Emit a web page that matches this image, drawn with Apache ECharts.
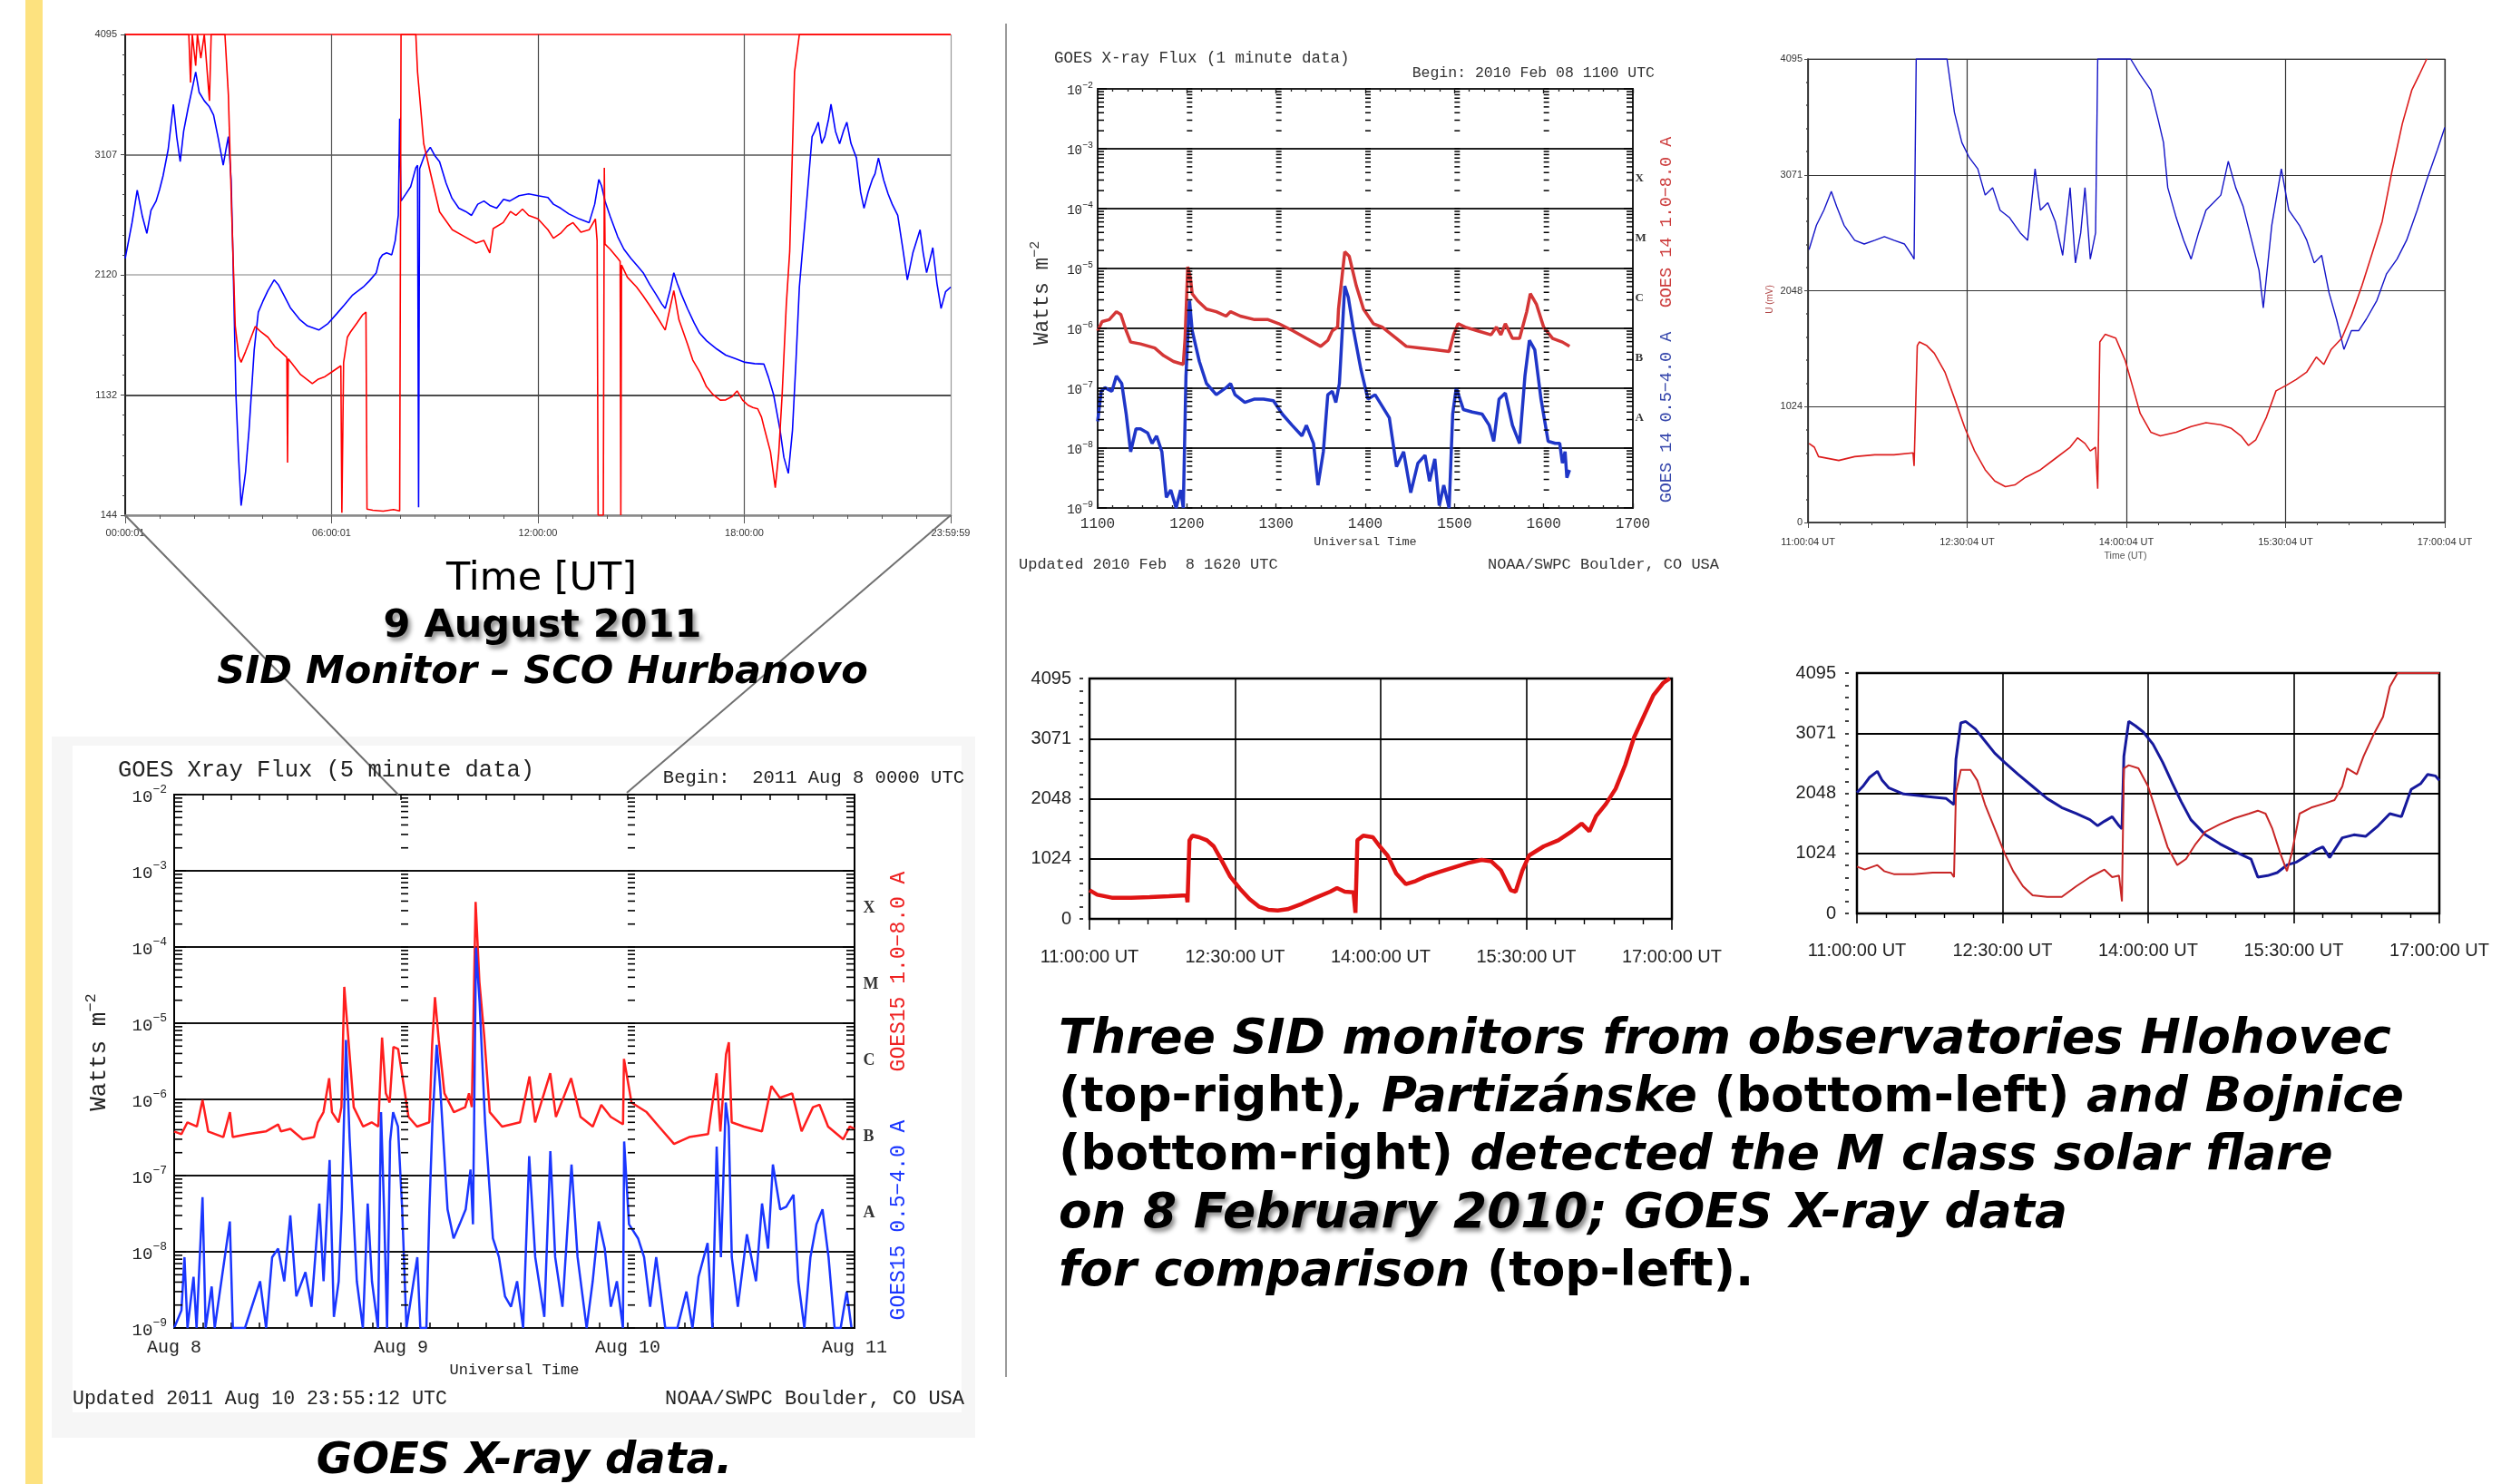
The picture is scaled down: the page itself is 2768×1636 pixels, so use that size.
<!DOCTYPE html>
<html><head><meta charset="utf-8">
<script src="https://cdn.jsdelivr.net/npm/echarts@6/dist/echarts.min.js"></script>
<style>html,body{margin:0;padding:0;background:#fff;}#c{width:2768px;height:1636px;}</style>
</head><body><div id="c"></div>
<script>
// ---------------- DATA ----------------
// Panel 1: SID monitor SCO Hurbanovo, 9 Aug 2011 (hours UT, signal)
const hurbanovoXLabels = ['00:00:01','06:00:01','12:00:00','18:00:00','23:59:59'];
const hurbanovoYLabels = ['144','1132','2120','3107','4095'];
const hurbanovoBlue = [[0,2255],[0.1,2400],[0.2,2550],[0.35,2815],[0.5,2600],[0.63,2460],[0.75,2650],[0.9,2726],[1.0,2820],[1.1,2932],[1.25,3150],[1.4,3521],[1.5,3250],[1.6,3050],[1.7,3300],[1.83,3491],[1.95,3650],[2.05,3786],[2.15,3620],[2.3,3550],[2.45,3500],[2.57,3433],[2.7,3250],[2.85,3020],[2.93,3150],[3.0,3256],[3.08,2900],[3.13,2314],[3.22,1136],[3.3,600],[3.37,223],[3.5,500],[3.6,842],[3.75,1500],[3.87,1813],[4.0,1900],[4.15,1990],[4.33,2078],[4.45,2040],[4.6,1960],[4.8,1850],[5.07,1754],[5.3,1700],[5.63,1666],[5.9,1720],[6.15,1800],[6.37,1872],[6.6,1950],[6.92,2019],[7.1,2070],[7.3,2137],[7.4,2250],[7.48,2284],[7.6,2300],[7.75,2284],[7.85,2400],[7.94,2608],[7.98,3403],[8.02,2726],[8.15,2780],[8.3,2844],[8.45,3000],[8.5,3020],[8.53,209],[8.56,2991],[8.7,3100],[8.87,3168],[9.0,3100],[9.14,3050],[9.33,2873],[9.5,2750],[9.7,2667],[9.9,2640],[10.07,2608],[10.25,2700],[10.43,2726],[10.6,2690],[10.8,2667],[11.0,2740],[11.18,2726],[11.45,2770],[11.73,2785],[12.0,2770],[12.29,2755],[12.45,2700],[12.66,2667],[12.9,2620],[13.2,2579],[13.49,2549],[13.65,2700],[13.77,2903],[13.85,2850],[13.95,2726],[14.1,2600],[14.32,2432],[14.5,2330],[14.7,2255],[14.9,2190],[15.06,2137],[15.25,2040],[15.43,1960],[15.6,1880],[15.7,1843],[15.85,2000],[15.95,2137],[16.05,2050],[16.17,1960],[16.35,1840],[16.54,1725],[16.7,1640],[16.9,1578],[17.2,1510],[17.46,1460],[17.75,1430],[18.02,1401],[18.3,1390],[18.57,1386],[18.7,1280],[18.85,1136],[19.04,842],[19.15,620],[19.28,488],[19.4,842],[19.5,1400],[19.6,2019],[19.7,2350],[19.78,2608],[19.88,2950],[19.97,3256],[20.05,3300],[20.15,3374],[20.25,3200],[20.34,3256],[20.45,3400],[20.52,3521],[20.65,3300],[20.77,3197],[20.88,3300],[20.98,3374],[21.1,3200],[21.26,3080],[21.38,2800],[21.48,2667],[21.6,2800],[21.72,2903],[21.8,2950],[21.9,3080],[22.05,2900],[22.18,2785],[22.3,2700],[22.46,2608],[22.6,2350],[22.74,2078],[22.9,2300],[23.11,2490],[23.2,2300],[23.3,2137],[23.4,2250],[23.48,2343],[23.6,2050],[23.72,1843],[23.85,1980],[24,2019]];
const hurbanovoRed = [[0,4095],[1.85,4095],[1.9,3700],[1.95,4095],[2.05,3838],[2.1,4095],[2.2,3900],[2.3,4095],[2.45,3550],[2.5,4095],[2.9,4095],[3.0,3600],[3.1,2600],[3.2,1700],[3.3,1450],[3.37,1401],[3.5,1489],[3.6,1560],[3.78,1695],[3.95,1650],[4.15,1607],[4.35,1530],[4.52,1489],[4.7,1440],[4.72,577],[4.74,1430],[4.9,1372],[5.1,1300],[5.44,1225],[5.6,1260],[5.81,1283],[6.0,1320],[6.27,1372],[6.3,165],[6.35,1400],[6.46,1607],[6.55,1650],[6.74,1725],[6.9,1790],[7.0,1813],[7.03,194],[7.2,185],[7.5,178],[7.8,190],[7.98,180],[8.02,4095],[8.45,4095],[8.5,3786],[8.68,3197],[8.87,2962],[9.14,2638],[9.51,2490],[9.88,2432],[10.2,2380],[10.43,2402],[10.6,2300],[10.7,2500],[10.99,2549],[11.2,2640],[11.36,2608],[11.55,2660],[11.73,2608],[12.0,2580],[12.29,2490],[12.45,2420],[12.66,2461],[12.85,2520],[13.02,2549],[13.25,2470],[13.49,2490],[13.67,2579],[13.72,2400],[13.75,144],[13.9,144],[13.93,3000],[13.95,2372],[14.1,2330],[14.32,2255],[14.39,2230],[14.41,144],[14.43,2200],[14.6,2100],[14.87,2019],[15.05,1950],[15.24,1872],[15.45,1780],[15.7,1666],[15.95,1990],[16.1,1750],[16.35,1549],[16.5,1420],[16.72,1313],[16.9,1200],[17.09,1136],[17.3,1090],[17.46,1092],[17.65,1120],[17.79,1166],[17.95,1090],[18.11,1048],[18.25,1030],[18.39,1018],[18.5,950],[18.57,871],[18.76,665],[18.9,371],[19.0,650],[19.1,1136],[19.22,1872],[19.32,2314],[19.46,3786],[19.6,4095],[24,4095]];

// Panel 2: GOES 15 X-ray flux, 5 minute data, hours since 2011 Aug 8 00:00 (W m^-2)
const goes5XLabels = ['Aug 8','Aug 9','Aug 10','Aug 11'];
const goes5Red = [[0,3.8e-7],[0.77,3.5e-7],[1.4,5.0e-7],[2.4,4.4e-7],[3.0,9.8e-7],[3.6,3.8e-7],[5.2,3.2e-7],[5.9,6.8e-7],[6.2,3.2e-7],[7.8,3.5e-7],[9.7,3.8e-7],[11.0,4.7e-7],[11.3,3.8e-7],[12.3,4.1e-7],[13.6,3.0e-7],[14.8,3.2e-7],[15.2,5.0e-7],[15.8,6.8e-7],[16.4,1.9e-6],[16.7,6.8e-7],[17.4,5.0e-7],[17.7,7.9e-7],[18.0,3.0e-5],[18.4,7.1e-6],[19.0,7.9e-7],[20.0,4.4e-7],[20.9,5.0e-7],[21.6,4.4e-7],[22.0,6.5e-6],[22.4,1.2e-6],[22.8,9.1e-7],[23.2,4.9e-6],[23.7,4.6e-6],[24.1,2.2e-6],[24.8,5.9e-7],[25.7,4.4e-7],[27.0,5.0e-7],[27.3,5.2e-6],[27.6,2.2e-5],[28.0,6.0e-6],[28.6,1.2e-6],[29.6,6.8e-7],[30.8,7.9e-7],[31.2,1.2e-6],[31.5,7.9e-7],[31.9,3.9e-4],[32.3,3.5e-5],[32.8,7.1e-6],[33.4,6.8e-7],[34.7,4.4e-7],[36.6,5.0e-7],[37.6,2.0e-6],[38.2,5.0e-7],[39.8,2.2e-6],[40.4,5.9e-7],[42.0,1.9e-6],[43.0,5.9e-7],[44.3,4.4e-7],[45.2,8.5e-7],[46.2,5.9e-7],[47.5,4.7e-7],[47.6,3.4e-6],[48.4,9.1e-7],[50.0,6.8e-7],[51.3,4.4e-7],[52.9,2.6e-7],[54.5,3.2e-7],[56.5,3.5e-7],[57.4,2.2e-6],[57.8,3.8e-7],[58.4,3.9e-6],[58.7,5.6e-6],[59.0,5.0e-7],[60.3,4.4e-7],[62.2,3.8e-7],[63.2,1.5e-6],[64.1,1.05e-6],[65.4,1.2e-6],[66.4,3.8e-7],[67.6,7.9e-7],[68.3,8.5e-7],[69.2,4.4e-7],[70.8,3.0e-7],[71.5,4.4e-7],[72,4.1e-7]];
const goes5Blue = [[0,1e-9],[0.77,1.7e-9],[1.09,8.5e-9],[1.41,1e-9],[2.05,4.7e-9],[2.37,1e-9],[3.0,5.2e-8],[3.33,1e-9],[3.97,3.5e-9],[4.29,1e-9],[5.89,2.5e-8],[6.21,1e-9],[7.49,1e-9],[9.09,4.1e-9],[9.73,1e-9],[10.37,8.5e-9],[11.0,1.1e-8],[11.65,4.1e-9],[12.29,3.0e-8],[12.93,2.6e-9],[13.89,5.4e-9],[14.53,1.9e-9],[15.36,4.3e-8],[15.81,4.1e-9],[16.45,1.6e-7],[16.9,1.4e-9],[17.41,4.1e-9],[17.73,3.6e-8],[18.18,6.0e-6],[18.56,3.2e-7],[19.33,4.1e-9],[19.97,1e-9],[20.48,4.3e-8],[20.93,4.1e-9],[21.57,1e-9],[21.89,6.8e-7],[22.21,3.6e-8],[22.53,1e-9],[22.85,2.8e-7],[23.17,6.8e-7],[23.68,4.4e-7],[24.13,3.6e-8],[24.58,1e-9],[25.73,8.5e-9],[26.05,1e-9],[26.69,1e-9],[27.01,3.6e-8],[27.33,5.0e-7],[27.78,5.2e-6],[28.16,1.4e-6],[28.93,3.6e-8],[29.57,1.5e-8],[30.21,2.3e-8],[30.85,3.6e-8],[31.36,1.2e-7],[31.62,2.3e-8],[31.94,9.8e-5],[32.32,1.9e-5],[32.9,5.0e-7],[33.73,1.5e-8],[34.37,8.5e-9],[35.01,2.6e-9],[35.65,1.9e-9],[36.29,4.1e-9],[36.93,1e-9],[37.57,1.8e-7],[38.21,8.5e-9],[39.17,1.4e-9],[39.81,2.1e-7],[40.32,8.5e-9],[41.09,1.9e-9],[42.05,1.4e-7],[42.69,8.5e-9],[43.65,1e-9],[44.29,4.1e-9],[44.93,2.5e-8],[45.57,1.1e-8],[46.21,1.9e-9],[46.85,4.1e-9],[47.49,1e-9],[47.62,2.8e-7],[48.13,2.3e-8],[49.09,1.5e-8],[49.73,8.5e-9],[50.37,1.9e-9],[51.01,8.5e-9],[51.97,1e-9],[53.25,1e-9],[54.21,3.0e-9],[54.85,1e-9],[55.49,4.7e-9],[56.45,1.3e-8],[56.96,1e-9],[57.41,2.4e-7],[57.86,8.5e-9],[58.37,9.1e-7],[58.69,4.4e-7],[59.01,8.5e-9],[59.65,1.9e-9],[60.61,1.7e-8],[61.57,4.1e-9],[62.21,4.3e-8],[62.85,1.1e-8],[63.36,1.4e-7],[64.13,3.6e-8],[64.77,3.9e-8],[65.54,5.6e-8],[66.05,4.1e-9],[66.69,1e-9],[67.33,8.5e-9],[67.97,2.3e-8],[68.61,3.6e-8],[69.25,8.5e-9],[69.89,1e-9],[70.53,1e-9],[71.17,3.0e-9],[71.68,1e-9]];

// Panel 3: GOES 14 X-ray flux, 1 minute data, 2010 Feb 08 (UT hours, W m^-2)
const goes1XLabels = ['1100','1200','1300','1400','1500','1600','1700'];
const goes1Red = [[11.0,9.1e-7],[11.05,1.3e-6],[11.13,1.4e-6],[11.21,1.9e-6],[11.26,1.7e-6],[11.32,9.1e-7],[11.37,5.9e-7],[11.48,5.5e-7],[11.64,4.7e-7],[11.74,3.5e-7],[11.85,2.8e-7],[11.96,2.5e-7],[11.98,6.8e-7],[12.01,1.07e-5],[12.04,6.9e-6],[12.06,3.8e-6],[12.12,2.9e-6],[12.22,2.1e-6],[12.33,1.9e-6],[12.44,1.6e-6],[12.49,1.9e-6],[12.6,1.6e-6],[12.76,1.4e-6],[12.91,1.4e-6],[13.03,1.2e-6],[13.19,9.1e-7],[13.34,6.8e-7],[13.5,5.0e-7],[13.58,6.3e-7],[13.63,9.1e-7],[13.69,1.05e-6],[13.7,2.1e-6],[13.77,1.9e-5],[13.82,1.6e-5],[13.9,5.1e-6],[13.98,2.1e-6],[14.09,1.2e-6],[14.19,1.05e-6],[14.35,6.8e-7],[14.46,5.0e-7],[14.62,4.7e-7],[14.78,4.4e-7],[14.94,4.1e-7],[14.99,7.8e-7],[15.04,1.2e-6],[15.12,1.05e-6],[15.26,9.1e-7],[15.41,7.8e-7],[15.47,1.05e-6],[15.52,7.8e-7],[15.57,1.2e-6],[15.65,6.8e-7],[15.73,6.8e-7],[15.81,1.9e-6],[15.85,3.8e-6],[15.92,2.5e-6],[16.0,1.05e-6],[16.1,6.8e-7],[16.21,5.9e-7],[16.29,5.0e-7]];
const goes1Blue = [[11.0,2.8e-8],[11.04,8.9e-8],[11.08,1.02e-7],[11.16,8.9e-8],[11.21,1.6e-7],[11.27,1.2e-7],[11.32,3.7e-8],[11.37,8.7e-9],[11.43,2.1e-8],[11.48,2.1e-8],[11.56,1.8e-8],[11.61,1.2e-8],[11.66,1.6e-8],[11.72,8.7e-9],[11.77,1.5e-9],[11.82,2.0e-9],[11.88,1e-9],[11.93,2.0e-9],[11.96,1e-9],[11.99,1.6e-7],[12.03,2.9e-6],[12.06,9.1e-7],[12.14,2.8e-7],[12.22,1.2e-7],[12.33,7.8e-8],[12.44,1.02e-7],[12.49,1.2e-7],[12.54,7.8e-8],[12.65,5.8e-8],[12.76,6.6e-8],[12.86,6.6e-8],[12.97,6.2e-8],[13.07,3.7e-8],[13.18,2.4e-8],[13.29,1.6e-8],[13.34,2.4e-8],[13.42,1.2e-8],[13.47,2.4e-9],[13.53,8.7e-9],[13.58,7.8e-8],[13.63,8.9e-8],[13.67,5.8e-8],[13.71,1.2e-7],[13.77,5.1e-6],[13.81,3.3e-6],[13.87,9.1e-7],[13.95,2.1e-7],[14.03,6.6e-8],[14.11,7.8e-8],[14.19,5.0e-8],[14.27,3.2e-8],[14.35,4.9e-9],[14.43,8.7e-9],[14.51,1.8e-9],[14.59,5.6e-9],[14.67,7.6e-9],[14.72,2.8e-9],[14.78,6.6e-9],[14.83,1.1e-9],[14.88,2.4e-9],[14.94,1e-9],[14.98,3.7e-8],[15.02,1.02e-7],[15.1,4.4e-8],[15.2,4.0e-8],[15.31,3.7e-8],[15.39,2.4e-8],[15.44,1.3e-8],[15.5,6.6e-8],[15.57,8.3e-8],[15.65,2.4e-8],[15.73,1.2e-8],[15.79,1.6e-7],[15.84,6.3e-7],[15.9,4.4e-7],[15.97,6.6e-8],[16.05,1.3e-8],[16.13,1.2e-8],[16.18,1.2e-8],[16.21,5.6e-9],[16.24,8.7e-9],[16.26,3.2e-9],[16.29,4.3e-9]];
const flareClasses = [['X',3.2e-4],['M',3.2e-5],['C',3.2e-6],['B',3.2e-7],['A',3.2e-8]];

// Panel 4: Hlohovec SID monitor, 8 Feb 2010 (UT hours, mV)
const hlohovecXLabels = ['11:00:04 UT','12:30:04 UT','14:00:04 UT','15:30:04 UT','17:00:04 UT'];
const sidYLabels = ['0','1024','2048','3071','4095'];
const hlohovecBlue = [[11.01,2410],[11.08,2626],[11.15,2759],[11.22,2925],[11.27,2792],[11.34,2626],[11.44,2493],[11.53,2460],[11.63,2493],[11.72,2526],[11.81,2493],[11.91,2460],[11.98,2360],[12.0,2327],[12.02,4095],[12.31,4095],[12.38,3623],[12.45,3357],[12.52,3224],[12.6,3124],[12.67,2892],[12.74,2958],[12.81,2759],[12.9,2692],[13.0,2559],[13.07,2493],[13.14,3124],[13.19,2759],[13.26,2825],[13.33,2659],[13.4,2360],[13.47,2958],[13.52,2293],[13.57,2559],[13.61,2958],[13.66,2327],[13.71,2559],[13.73,4095],[14.04,4095],[14.13,3955],[14.23,3822],[14.3,3557],[14.35,3357],[14.39,2958],[14.47,2692],[14.54,2493],[14.61,2327],[14.68,2559],[14.75,2759],[14.82,2825],[14.89,2892],[14.96,3191],[15.03,2958],[15.1,2792],[15.18,2493],[15.25,2227],[15.29,1895],[15.37,2626],[15.46,3124],[15.53,2759],[15.63,2626],[15.7,2493],[15.77,2293],[15.84,2360],[15.91,2028],[15.98,1795],[16.05,1529],[16.12,1695],[16.19,1695],[16.26,1795],[16.36,1961],[16.45,2194],[16.55,2327],[16.64,2493],[16.74,2759],[16.83,3025],[16.93,3291],[17.0,3490]];
const hlohovecRed = [[11.01,698],[11.06,665],[11.1,582],[11.29,548],[11.44,582],[11.63,598],[11.81,598],[11.99,615],[12.0,499],[12.03,1562],[12.05,1595],[12.12,1562],[12.19,1496],[12.29,1330],[12.38,1097],[12.48,831],[12.57,632],[12.67,465],[12.76,366],[12.86,316],[12.95,332],[13.05,399],[13.19,465],[13.33,565],[13.47,665],[13.54,748],[13.61,698],[13.66,632],[13.71,665],[13.73,299],[13.75,1595],[13.8,1662],[13.9,1629],[13.99,1429],[14.06,1197],[14.13,964],[14.23,798],[14.32,765],[14.47,798],[14.61,848],[14.75,881],[14.89,864],[14.99,831],[15.08,765],[15.15,681],[15.22,731],[15.32,931],[15.41,1163],[15.51,1213],[15.6,1263],[15.7,1330],[15.79,1462],[15.86,1396],[15.93,1529],[16.03,1629],[16.12,1828],[16.22,2094],[16.31,2360],[16.41,2659],[16.5,3091],[16.6,3523],[16.69,3822],[16.76,3955],[16.83,4095]];

// Panel 5: Partizanske; Panel 6: Bojnice (UT hours, signal)
const sidXLabels = ['11:00:00 UT','12:30:00 UT','14:00:00 UT','15:30:00 UT','17:00:00 UT'];
const partizanskeRed = [[11.0,489],[11.08,412],[11.23,361],[11.43,361],[11.62,371],[11.82,386],[12.0,402],[12.01,283],[12.03,1339],[12.06,1417],[12.13,1391],[12.21,1339],[12.28,1236],[12.35,1030],[12.45,721],[12.55,515],[12.65,335],[12.75,206],[12.84,155],[12.94,144],[13.04,165],[13.19,258],[13.33,361],[13.48,464],[13.55,525],[13.63,464],[13.72,453],[13.74,103],[13.76,1339],[13.82,1417],[13.92,1391],[13.99,1236],[14.07,1082],[14.16,773],[14.26,592],[14.36,644],[14.46,721],[14.6,798],[14.75,876],[14.9,953],[15.04,1004],[15.14,979],[15.24,824],[15.34,489],[15.39,464],[15.46,824],[15.53,1082],[15.68,1236],[15.83,1339],[15.97,1494],[16.07,1623],[16.15,1494],[16.22,1751],[16.32,1957],[16.42,2215],[16.52,2627],[16.61,3091],[16.71,3451],[16.81,3812],[16.91,4018],[16.98,4095]];
const bojniceBlue = [[11.0,2060],[11.06,2163],[11.13,2318],[11.21,2421],[11.26,2266],[11.33,2137],[11.48,2035],[11.63,2009],[11.78,1983],[11.92,1957],[12.0,1854],[12.02,2627],[12.07,3245],[12.12,3271],[12.22,3142],[12.32,2936],[12.42,2730],[12.52,2575],[12.66,2369],[12.81,2163],[12.96,1957],[13.11,1803],[13.26,1700],[13.4,1597],[13.48,1494],[13.55,1571],[13.63,1648],[13.7,1494],[13.73,1442],[13.75,2678],[13.8,3271],[13.87,3194],[13.95,3091],[14.05,2884],[14.15,2575],[14.25,2215],[14.34,1906],[14.44,1597],[14.59,1339],[14.74,1185],[14.89,1056],[14.99,979],[15.06,927],[15.13,618],[15.23,644],[15.33,695],[15.43,824],[15.53,876],[15.63,979],[15.73,1082],[15.8,1133],[15.87,953],[15.92,1082],[16.0,1288],[16.12,1339],[16.24,1313],[16.37,1494],[16.49,1700],[16.61,1648],[16.71,2112],[16.81,2215],[16.88,2369],[16.96,2343],[17.0,2266]];
const bojniceRed = [[11.0,798],[11.08,747],[11.21,824],[11.28,721],[11.38,670],[11.58,670],[11.78,695],[11.97,695],[12.0,618],[12.02,2060],[12.07,2446],[12.17,2446],[12.24,2266],[12.32,1854],[12.42,1442],[12.52,1030],[12.61,721],[12.71,464],[12.81,309],[12.96,283],[13.11,283],[13.26,464],[13.4,618],[13.55,747],[13.63,618],[13.7,644],[13.73,206],[13.75,2472],[13.8,2524],[13.9,2472],[14.0,2163],[14.1,1648],[14.2,1133],[14.3,824],[14.39,927],[14.49,1185],[14.59,1391],[14.74,1519],[14.89,1623],[15.04,1700],[15.13,1751],[15.21,1700],[15.28,1442],[15.36,1030],[15.43,721],[15.48,1030],[15.56,1700],[15.68,1803],[15.83,1880],[15.92,1932],[16.0,2163],[16.05,2472],[16.15,2369],[16.22,2678],[16.32,3039],[16.42,3348],[16.49,3863],[16.57,4095],[17.0,4095]];

// ---------------- CHART ----------------
const MONO = 'Liberation Mono, DejaVu Sans Mono, monospace';
const SANS = 'Liberation Sans, Arial, sans-serif';
const VERD = 'DejaVu Sans, Verdana, sans-serif';

const chart = echarts.init(document.getElementById('c'), null, {renderer: 'canvas', width: 2768, height: 1636});

function idxLabel(arr, start, step) {
  return function (v) { const i = Math.round((v - start) / step); return arr[i] != null ? arr[i] : ''; };
}
function logLabel(v) {
  const e = Math.round(Math.log10(v));
  return '{b|10}{s|' + (e < 0 ? '\u2212' : '') + Math.abs(e) + '}';
}
function logRich(b, s, pad) {
  return {
    b: {fontSize: b, fontFamily: MONO, color: '#222', verticalAlign: 'bottom'},
    s: {fontSize: s, fontFamily: MONO, color: '#222', verticalAlign: 'top', padding: [0, 0, pad, 0]}
  };
}
// log-axis tick columns (edges and day/hour boundaries)
function logTickData(cols) {
  const out = [];
  cols.forEach(function (c) {
    for (let n = -9; n <= -2; n++) {
      for (let k = 1; k <= 9; k++) {
        if (n === -2 && k > 1) break;
        out.push([c[0], k * Math.pow(10, n), c[1], k === 1 ? c[3] : c[2]]);
      }
    }
  });
  return out;
}
function tickSeries(xi, yi, cols, lw) {
  return {
    type: 'custom', xAxisIndex: xi, yAxisIndex: yi, silent: true, z: 4, clip: false,
    dimensions: ['x', 'y', 'dir', 'len'], encode: {x: 0, y: 1},
    data: logTickData(cols),
    renderItem: function (params, api) {
      const p = api.coord([api.value(0), api.value(1)]);
      const d = api.value(2), L = api.value(3);
      return {type: 'line', shape: {x1: p[0], y1: p[1], x2: p[0] + d * L, y2: p[1]},
        style: {stroke: '#000', lineWidth: lw}};
    }
  };
}
function line(xi, yi, data, color, w, z) {
  return {type: 'line', xAxisIndex: xi, yAxisIndex: yi, data: data, showSymbol: false, symbol: 'none',
    lineStyle: {color: color, width: w}, itemStyle: {color: color}, z: z || 3, silent: true};
}
function classSeries(xi, yi, xmax, fs, dist) {
  return {type: 'scatter', xAxisIndex: xi, yAxisIndex: yi, symbolSize: 1, silent: true,
    itemStyle: {color: 'rgba(0,0,0,0)'},
    data: flareClasses.map(function (c) { return {name: c[0], value: [xmax, c[1]]}; }),
    label: {show: true, position: 'right', distance: dist, formatter: '{b}', fontFamily: 'Liberation Serif, DejaVu Serif, serif',
      fontWeight: 'bold', fontSize: fs, color: '#000'}};
}
function T(x, y, text, o) {
  o = o || {};
  const al = o.align || 'left';
  const st = Object.assign({text: text, fill: o.fill || '#000', fontFamily: o.fontFamily || VERD, fontSize: o.fontSize || 20,
    fontWeight: o.fontWeight || 'normal', fontStyle: o.fontStyle || 'normal',
    align: al, textAlign: al, verticalAlign: 'middle', textVerticalAlign: 'middle'}, o.extra || {});
  if (o.rich) st.rich = o.rich;
  return {type: 'text', x: x, y: y, rotation: o.rotation || 0, z: 100, silent: true, style: st};
}

const grids = [
  {left: 138, top: 38, width: 910, height: 530},
  {left: 192, top: 876, width: 750, height: 588, show: true, borderColor: '#000', borderWidth: 2, backgroundColor: 'transparent'},
  {left: 1210, top: 98, width: 590, height: 462, show: true, borderColor: '#222', borderWidth: 2, backgroundColor: 'transparent'},
  {left: 1993, top: 65, width: 702, height: 511, show: true, borderColor: '#666', borderWidth: 1.2, backgroundColor: 'transparent'},
  {left: 1201, top: 748, width: 642, height: 265, show: true, borderColor: '#000', borderWidth: 2.5, backgroundColor: 'transparent'},
  {left: 2047, top: 742, width: 642, height: 265, show: true, borderColor: '#000', borderWidth: 2.5, backgroundColor: 'transparent'}
];
grids.forEach(function (g) { g.containLabel = false; g.outerBoundsMode = 'none'; });

const noTick = {show: false};
const xAxes = [
  // 0: Hurbanovo
  {gridIndex: 0, type: 'value', min: 0, max: 24, interval: 6, position: 'bottom',
    axisLine: {show: true, lineStyle: {color: '#8a8a8a', width: 2.5}},
    axisTick: {show: true, length: 9, lineStyle: {color: '#555', width: 1}},
    minorTick: {show: true, splitNumber: 6, length: 4, lineStyle: {color: '#555', width: 1}},
    axisLabel: {fontSize: 11, color: '#333', fontFamily: SANS, margin: 14, formatter: idxLabel(hurbanovoXLabels, 0, 6), showMinLabel: true, showMaxLabel: true},
    splitLine: {show: true, lineStyle: {color: ['#666', '#555', '#444', '#555', '#999'], width: 1.2}}},
  // 1,2: GOES 5-min bottom/top
  {gridIndex: 1, type: 'value', min: 0, max: 72, interval: 24, position: 'bottom',
    axisLine: {show: false}, axisTick: {show: true, inside: true, length: 6, lineStyle: {color: '#000', width: 1.5}},
    minorTick: {show: true, splitNumber: 8, length: 6, lineStyle: {color: '#000', width: 1.5}},
    axisLabel: {fontSize: 20, color: '#222', fontFamily: MONO, margin: 12, formatter: idxLabel(goes5XLabels, 0, 24)},
    splitLine: {show: false}},
  {gridIndex: 1, type: 'value', min: 0, max: 72, interval: 24, position: 'top',
    axisLine: {show: false}, axisTick: {show: true, inside: true, length: 6, lineStyle: {color: '#000', width: 1.5}},
    minorTick: {show: true, splitNumber: 8, length: 6, lineStyle: {color: '#000', width: 1.5}},
    axisLabel: {show: false}, splitLine: {show: false}},
  // 3,4: GOES 1-min bottom/top
  {gridIndex: 2, type: 'value', min: 11, max: 17, interval: 1, position: 'bottom',
    axisLine: {show: false}, axisTick: {show: true, inside: true, length: 5, lineStyle: {color: '#222', width: 1.3}},
    minorTick: {show: true, splitNumber: 6, length: 3, lineStyle: {color: '#222', width: 1.3}},
    axisLabel: {fontSize: 16, color: '#333', fontFamily: MONO, margin: 10, formatter: idxLabel(goes1XLabels, 11, 1)},
    splitLine: {show: false}},
  {gridIndex: 2, type: 'value', min: 11, max: 17, interval: 1, position: 'top',
    axisLine: {show: false}, axisTick: {show: true, inside: true, length: 5, lineStyle: {color: '#222', width: 1.3}},
    minorTick: {show: true, splitNumber: 6, length: 3, lineStyle: {color: '#222', width: 1.3}},
    axisLabel: {show: false}, splitLine: {show: false}},
  // 5: Hlohovec
  {gridIndex: 3, type: 'value', min: 11, max: 17, interval: 1.5, position: 'bottom',
    axisLine: {show: true, lineStyle: {color: '#333', width: 1.5}},
    axisTick: {show: true, length: 6, lineStyle: {color: '#444', width: 1}},
    minorTick: {show: true, splitNumber: 5, length: 3, lineStyle: {color: '#444', width: 1}},
    axisLabel: {fontSize: 11, color: '#333', fontFamily: SANS, margin: 16, formatter: idxLabel(hlohovecXLabels, 11, 1.5), showMinLabel: true, showMaxLabel: true},
    splitLine: {show: true, lineStyle: {color: '#333', width: 1.2}}},
  // 6,7: Partizanske main + offset ticks
  {gridIndex: 4, type: 'value', min: 11, max: 17, interval: 1.5, position: 'bottom',
    axisLine: {show: false}, axisTick: noTick, axisLabel: {show: false},
    splitLine: {show: true, lineStyle: {color: '#000', width: 1.6}}},
  {gridIndex: 4, type: 'value', min: 11, max: 17, interval: 1.5, position: 'bottom', offset: 8,
    axisLine: {show: false},
    axisTick: {show: true, length: 12, lineStyle: {color: '#000', width: 1.6}},
    minorTick: {show: true, splitNumber: 5, length: 6, lineStyle: {color: '#000', width: 1.4}},
    axisLabel: {fontSize: 20, color: '#222', fontFamily: SANS, margin: 24, formatter: idxLabel(sidXLabels, 11, 1.5), showMinLabel: true, showMaxLabel: true},
    splitLine: {show: false}},
  // 8,9: Bojnice main + offset ticks
  {gridIndex: 5, type: 'value', min: 11, max: 17, interval: 1.5, position: 'bottom',
    axisLine: {show: false}, axisTick: noTick, axisLabel: {show: false},
    splitLine: {show: true, lineStyle: {color: '#000', width: 1.6}}},
  {gridIndex: 5, type: 'value', min: 11, max: 17, interval: 1.5, position: 'bottom', offset: 9,
    axisLine: {show: false},
    axisTick: {show: true, length: 11, lineStyle: {color: '#000', width: 1.6}},
    minorTick: {show: true, splitNumber: 5, length: 5, lineStyle: {color: '#000', width: 1.4}},
    axisLabel: {fontSize: 20, color: '#222', fontFamily: SANS, margin: 22, formatter: idxLabel(sidXLabels, 11, 1.5), showMinLabel: true, showMaxLabel: true},
    splitLine: {show: false}}
];

const yAxes = [
  // 0: Hurbanovo
  {gridIndex: 0, type: 'value', min: 144, max: 4095, interval: 987.75, position: 'left',
    axisLine: {show: true, lineStyle: {color: '#222', width: 2}},
    axisTick: {show: true, length: 5, lineStyle: {color: '#444', width: 1}},
    minorTick: {show: true, splitNumber: 6, length: 3, lineStyle: {color: '#444', width: 1}},
    axisLabel: {fontSize: 11, color: '#333', fontFamily: SANS, margin: 9, formatter: idxLabel(hurbanovoYLabels, 144, 987.75), showMinLabel: true, showMaxLabel: true},
    splitLine: {show: true, lineStyle: {color: ['#888', '#111', '#aaa', '#555', '#ff0000'], width: 1.6}}},
  // 1: GOES 5-min
  {gridIndex: 1, type: 'log', logBase: 10, min: 1e-9, max: 1e-2, position: 'left',
    axisLine: {show: false}, axisTick: noTick,
    axisLabel: {margin: 8, formatter: logLabel, rich: logRich(19, 13, 11), showMinLabel: true, showMaxLabel: true},
    splitLine: {show: true, lineStyle: {color: '#111', width: 2}}},
  // 2: GOES 1-min
  {gridIndex: 2, type: 'log', logBase: 10, min: 1e-9, max: 1e-2, position: 'left',
    axisLine: {show: false}, axisTick: noTick,
    axisLabel: {margin: 5, formatter: logLabel, rich: logRich(14, 10, 8), showMinLabel: true, showMaxLabel: true},
    splitLine: {show: true, lineStyle: {color: '#222', width: 1.8}}},
  // 3: Hlohovec
  {gridIndex: 3, type: 'value', min: 0, max: 4095, interval: 1023.75, position: 'left',
    axisLine: {show: true, lineStyle: {color: '#333', width: 1.5}},
    axisTick: {show: true, length: 4, lineStyle: {color: '#444', width: 1}},
    minorTick: {show: true, splitNumber: 5, length: 2, lineStyle: {color: '#444', width: 1.5}},
    axisLabel: {fontSize: 11, color: '#333', fontFamily: SANS, margin: 6, formatter: idxLabel(sidYLabels, 0, 1023.75), showMinLabel: true, showMaxLabel: true},
    splitLine: {show: true, lineStyle: {color: '#333', width: 1.2}}},
  // 4,5: Partizanske
  {gridIndex: 4, type: 'value', min: 0, max: 4095, interval: 1023.75, position: 'left',
    axisLine: {show: false}, axisTick: noTick, axisLabel: {show: false},
    splitLine: {show: true, lineStyle: {color: '#000', width: 2}}},
  {gridIndex: 4, type: 'value', min: 0, max: 4095, interval: 1023.75, position: 'left', offset: 7,
    axisLine: {show: false},
    axisTick: {show: true, length: 4, lineStyle: {color: '#000', width: 1.5}},
    minorTick: {show: true, splitNumber: 5, length: 4, lineStyle: {color: '#000', width: 1.5}},
    axisLabel: {fontSize: 20, color: '#222', fontFamily: SANS, margin: 13, formatter: idxLabel(sidYLabels, 0, 1023.75), showMinLabel: true, showMaxLabel: true},
    splitLine: {show: false}},
  // 6,7: Bojnice
  {gridIndex: 5, type: 'value', min: 0, max: 4095, interval: 1023.75, position: 'left',
    axisLine: {show: false}, axisTick: noTick, axisLabel: {show: false},
    splitLine: {show: true, lineStyle: {color: '#000', width: 2}}},
  {gridIndex: 5, type: 'value', min: 0, max: 4095, interval: 1023.75, position: 'left', offset: 9,
    axisLine: {show: false},
    axisTick: {show: true, length: 4, lineStyle: {color: '#000', width: 1.5}},
    minorTick: {show: true, splitNumber: 5, length: 4, lineStyle: {color: '#000', width: 1.5}},
    axisLabel: {fontSize: 20, color: '#222', fontFamily: SANS, margin: 14, formatter: idxLabel(sidYLabels, 0, 1023.75), showMinLabel: true, showMaxLabel: true},
    splitLine: {show: false}}
];

const series = [
  line(0, 0, hurbanovoBlue, '#0000ff', 1.6),
  line(0, 0, hurbanovoRed, '#ff0000', 1.6),
  line(1, 1, goes5Red, '#ff1e1e', 2.5),
  line(1, 1, goes5Blue, '#1a36ff', 2.5),
  line(3, 2, goes1Red, '#d43636', 3.5),
  line(3, 2, goes1Blue, '#1f36c8', 3.5),
  line(5, 3, hlohovecBlue, '#1414c8', 1.4),
  line(5, 3, hlohovecRed, '#dc1c1c', 1.6),
  line(6, 4, partizanskeRed, '#e01414', 4.5),
  line(8, 6, bojniceBlue, '#16199c', 3),
  line(8, 6, bojniceRed, '#c82626', 2),
  tickSeries(1, 1, [[0, 1, 9, 13], [24, 1, 8, 8], [48, 1, 8, 8], [72, -1, 9, 13]], 1.6),
  tickSeries(3, 2, [[11, 1, 7, 10], [12, 1, 6, 6], [13, 1, 6, 6], [14, 1, 6, 6], [15, 1, 6, 6], [16, 1, 6, 6], [17, -1, 7, 10]], 1.5),
  classSeries(1, 1, 72, 18, 9),
  classSeries(3, 2, 17, 13, 2)
];

const boldRich = {
  bi: {fontFamily: VERD, fontSize: 53.3, fontWeight: 'bold', fontStyle: 'italic', fill: '#000', color: '#000'},
  b: {fontFamily: VERD, fontSize: 53.3, fontWeight: 'bold', fontStyle: 'normal', fill: '#000', color: '#000'},
  bis: {fontFamily: VERD, fontSize: 53.3, fontWeight: 'bold', fontStyle: 'italic', fill: '#000', color: '#000',
    textShadowColor: 'rgba(0,0,0,0.45)', textShadowBlur: 5, textShadowOffsetX: 3, textShadowOffsetY: 4}
};
const wattsRich5 = {a: {fontFamily: MONO, fontSize: 26, fill: '#222', verticalAlign: 'bottom'}, s: {fontFamily: MONO, fontSize: 17, fill: '#222', verticalAlign: 'top', padding: [0, 0, 14, 0]}};
const wattsRich1 = {a: {fontFamily: MONO, fontSize: 23, fill: '#333', verticalAlign: 'bottom'}, s: {fontFamily: MONO, fontSize: 15, fill: '#333', verticalAlign: 'top', padding: [0, 0, 12, 0]}};

const graphics = [
  {type: 'rect', z: -10, silent: true, shape: {x: 28, y: 0, width: 19, height: 1636}, style: {fill: '#fde27f'}},
  {type: 'rect', z: -10, silent: true, shape: {x: 57, y: 812, width: 1018, height: 773}, style: {fill: '#f6f6f6'}},
  {type: 'rect', z: -9, silent: true, shape: {x: 80, y: 822, width: 980, height: 735}, style: {fill: '#ffffff'}},
  {type: 'line', z: 50, silent: true, shape: {x1: 1109, y1: 26, x2: 1109, y2: 1518}, style: {stroke: '#9a9a9a', lineWidth: 2}},
  {type: 'line', z: 50, silent: true, shape: {x1: 138, y1: 568, x2: 439, y2: 876}, style: {stroke: '#707070', lineWidth: 2}},
  {type: 'line', z: 50, silent: true, shape: {x1: 1048, y1: 568, x2: 691, y2: 874}, style: {stroke: '#707070', lineWidth: 2}},
  // Panel 1 captions
  T(597, 639, 'Time [UT]', {align: 'center', fontSize: 43}),
  T(598, 691, '9 August 2011', {align: 'center', fontSize: 43, fontWeight: 'bold',
    extra: {textShadowColor: 'rgba(0,0,0,0.45)', textShadowBlur: 5, textShadowOffsetX: 3, textShadowOffsetY: 4}}),
  T(598, 742, 'SID Monitor \u2013 SCO Hurbanovo', {align: 'center', fontSize: 43, fontWeight: 'bold', fontStyle: 'italic'}),
  // Panel 2 texts
  T(130, 849, 'GOES Xray Flux (5 minute data)', {fontFamily: MONO, fontSize: 25.5, fill: '#222'}),
  T(1063, 858, 'Begin:  2011 Aug 8 0000 UTC', {align: 'right', fontFamily: MONO, fontSize: 20.5, fill: '#222'}),
  T(107, 1160, '{a|Watts m}{s|\u22122}', {align: 'center', rotation: Math.PI / 2, rich: wattsRich5}),
  T(991, 1071, 'GOES15 1.0\u22128.0 A', {align: 'center', rotation: Math.PI / 2, fontFamily: MONO, fontSize: 23, fill: '#ee2222'}),
  T(991, 1345, 'GOES15 0.5\u22124.0 A', {align: 'center', rotation: Math.PI / 2, fontFamily: MONO, fontSize: 23, fill: '#1a36ff'}),
  T(567, 1510, 'Universal Time', {align: 'center', fontFamily: MONO, fontSize: 17, fill: '#222'}),
  T(80, 1542, 'Updated 2011 Aug 10 23:55:12 UTC', {fontFamily: MONO, fontSize: 21.5, fill: '#222'}),
  T(1063, 1542, 'NOAA/SWPC Boulder, CO USA', {align: 'right', fontFamily: MONO, fontSize: 22, fill: '#222'}),
  T(578, 1612, 'GOES X-ray data.', {align: 'center', fontSize: 48, fontWeight: 'bold', fontStyle: 'italic'}),
  // Panel 3 texts
  T(1162, 64, 'GOES X-ray Flux (1 minute data)', {fontFamily: MONO, fontSize: 17.5, fill: '#333'}),
  T(1824, 81, 'Begin: 2010 Feb 08 1100 UTC', {align: 'right', fontFamily: MONO, fontSize: 16.5, fill: '#333'}),
  T(1147, 323, '{a|Watts m}{s|\u22122}', {align: 'center', rotation: Math.PI / 2, rich: wattsRich1}),
  T(1837, 245, 'GOES 14 1.0\u22128.0 A', {align: 'center', rotation: Math.PI / 2, fontFamily: MONO, fontSize: 18.5, fill: '#cc3a3a'}),
  T(1837, 460, 'GOES 14 0.5\u22124.0 A', {align: 'center', rotation: Math.PI / 2, fontFamily: MONO, fontSize: 18.5, fill: '#3344aa'}),
  T(1505, 597, 'Universal Time', {align: 'center', fontFamily: MONO, fontSize: 13.5, fill: '#333'}),
  T(1123, 622, 'Updated 2010 Feb  8 1620 UTC', {fontFamily: MONO, fontSize: 17, fill: '#333'}),
  T(1895, 622, 'NOAA/SWPC Boulder, CO USA', {align: 'right', fontFamily: MONO, fontSize: 17, fill: '#333'}),
  // Panel 4 texts
  T(1951, 330, 'U (mV)', {align: 'center', rotation: Math.PI / 2, fontFamily: SANS, fontSize: 10, fill: '#b04848'}),
  T(2343, 613, 'Time (UT)', {align: 'center', fontFamily: SANS, fontSize: 10.5, fill: '#555'}),
  // Main description text
  T(1167, 1147, '{bi|Three SID monitors from observatories Hlohovec}', {rich: boldRich}),
  T(1167, 1211, '{b|(top-right)}{bi|, Partiz\u00e1nske }{b|(bottom-left)}{bi| and Bojnice}', {rich: boldRich}),
  T(1167, 1275, '{b|(bottom-right)}{bi| detected the M class solar flare}', {rich: boldRich}),
  T(1167, 1339, '{bi|on }{bis|8 February 2010}{bi|; GOES X-ray data}', {rich: boldRich}),
  T(1167, 1403, '{bi|for comparison }{b|(top-left).}', {rich: boldRich})
];

chart.setOption({
  animation: false,
  backgroundColor: '#ffffff',
  textStyle: {fontFamily: SANS},
  grid: grids,
  xAxis: xAxes,
  yAxis: yAxes,
  series: series,
  graphic: {elements: graphics}
});
</script>
</body></html>
